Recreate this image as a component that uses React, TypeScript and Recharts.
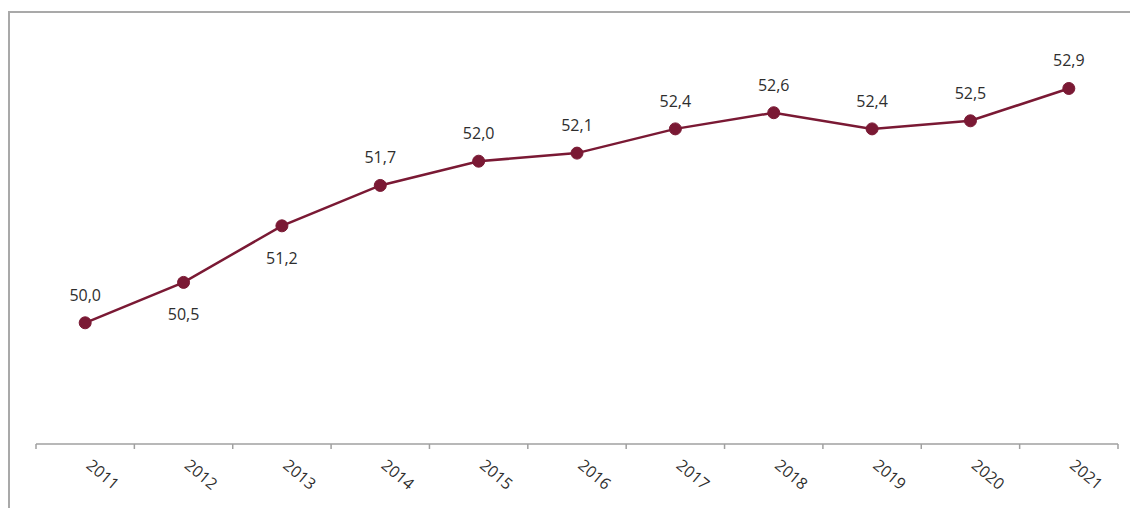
import { LineChart, Line, XAxis, YAxis, LabelList } from 'recharts';

const years = ['2011', '2012', '2013', '2014', '2015', '2016', '2017', '2018', '2019', '2020', '2021'];
const shares = [50.0, 50.5, 51.2, 51.7, 52.0, 52.1, 52.4, 52.6, 52.4, 52.5, 52.9];
// points whose value label sits under the marker
const labelsBelow = [1, 2];

const data = years.map((year, i) => ({ i, year, value: shares[i] }));

const boundaryTicks = years.map((_, i) => i - 0.5).concat(years.length - 0.5);
const centerTicks = years.map((_, i) => i);

const LINE_COLOR = '#7a1934';
const FONT = '"Open Sans", sans-serif';

function YearTick(props: any) {
  const { x, y, payload } = props;
  const tx = x;
  const ty = y + 14;
  return (
    <text
      x={tx}
      y={ty}
      transform={`rotate(40, ${tx}, ${ty})`}
      textAnchor="start"
      fontSize={16}
      fontFamily={FONT}
      fill="#2e2e2e"
    >
      {years[payload.value]}
    </text>
  );
}

function ValueLabel(props: any) {
  const { x, y, value, index } = props;
  const below = labelsBelow.includes(index);
  return (
    <text
      x={x}
      y={below ? y + 38 : y - 22}
      textAnchor="middle"
      fontSize={16}
      fontFamily={FONT}
      fill="#2e2e2e"
    >
      {Number(value).toFixed(1).replace('.', ',')}
    </text>
  );
}

export default function App() {
  return (
    <div style={{ position: 'absolute', left: 0, top: 0, width: 1130, height: 508, background: '#fff', overflow: 'hidden' }}>
      <div
        style={{
          position: 'absolute',
          left: 8,
          top: 11,
          width: 1140,
          height: 520,
          borderLeft: '2px solid #a9a9a9',
          borderTop: '2px solid #a9a9a9',
        }}
      />
      <div style={{ position: 'absolute', left: 0, top: 0 }}>
        <LineChart width={1130} height={508} data={data} margin={{ top: 40, right: 12, bottom: 13, left: 36 }}>
          <XAxis
            dataKey="i"
            type="number"
            domain={[-0.5, years.length - 0.5]}
            ticks={boundaryTicks}
            tick={() => <g />}
            tickSize={5}
            height={1}
            stroke="#a0a0a0"
            strokeWidth={1.5}
          />
          <XAxis
            xAxisId="years"
            dataKey="i"
            type="number"
            domain={[-0.5, years.length - 0.5]}
            ticks={centerTicks}
            tick={<YearTick />}
            tickLine={false}
            axisLine={false}
            height={50}
            interval={0}
          />
          <YAxis hide domain={[48.5, 53.5]} />
          <Line
            dataKey="value"
            stroke={LINE_COLOR}
            strokeWidth={2.5}
            dot={{ r: 6, fill: LINE_COLOR, stroke: LINE_COLOR, strokeWidth: 1 }}
            isAnimationActive={false}
          >
            <LabelList dataKey="value" content={<ValueLabel />} />
          </Line>
        </LineChart>
      </div>
    </div>
  );
}
